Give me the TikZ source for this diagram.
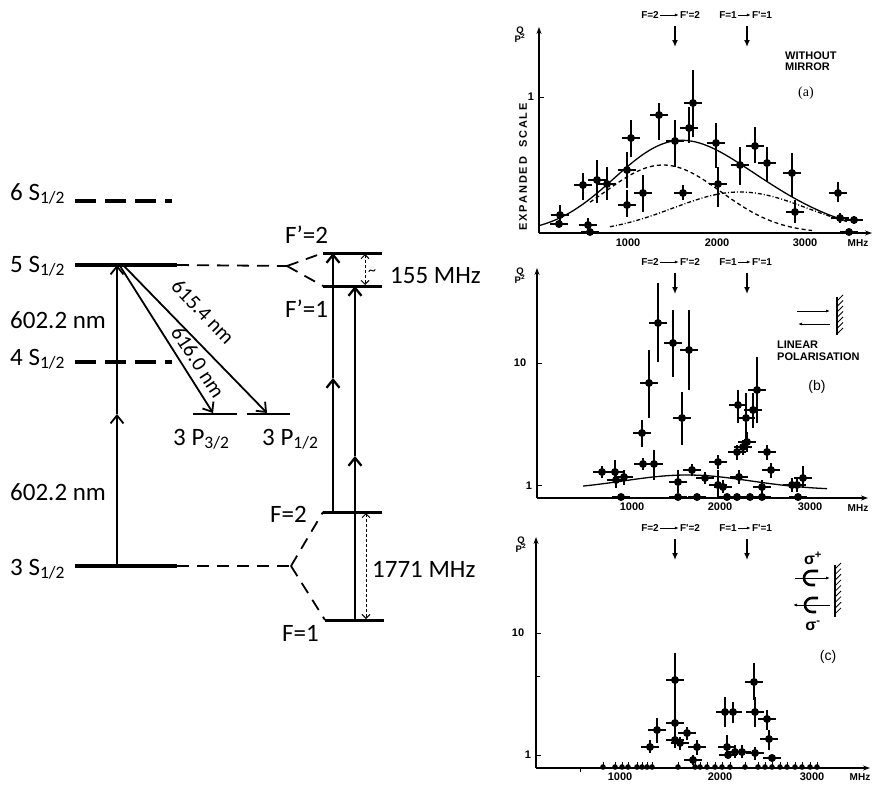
\documentclass[tikz,border=0pt]{standalone}
\usepackage{fontspec}
\setmainfont{Carlito}
\newfontfamily\pf{Liberation Sans}
\newfontfamily\pserif{Liberation Serif}
\usetikzlibrary{arrows.meta}
\begin{document}
\begin{tikzpicture}[x=1pt,y=-1pt,
  lvl/.style={line width=4.5pt},
  hlvl/.style={line width=3pt},
  plvl/.style={line width=2.5pt},
  dlvl/.style={line width=4.5pt, dash pattern=on 21pt off 9pt},
  link/.style={line width=1.8pt, dash pattern=on 12pt off 8pt},
  barb/.style={line width=1.8pt, -{Straight Barb[length=8pt,width=13pt]}},
  tbarb/.style={line width=2.3pt, -{Straight Barb[length=8pt,width=13pt]}},
  gap/.style={line width=0.9pt, dash pattern=on 3pt off 2pt, {Straight Barb[length=4pt,width=8pt]}-{Straight Barb[length=4pt,width=8pt]}},
  lab/.style={font=\fontsize{25}{30}\selectfont, inner sep=0pt},
  rlab/.style={font=\fontsize{21}{25}\selectfont, inner sep=0pt},
  axis/.style={line width=1.4pt, -{Stealth[length=7pt,width=5pt]}},
  pt/.style={font=\pf\bfseries\fontsize{11}{13}\selectfont, inner sep=0pt},
  ptsm/.style={font=\pf\bfseries\fontsize{10}{12}\selectfont, inner sep=1pt},
  qlab/.style={font=\pf\bfseries\fontsize{9.5}{9.5}\selectfont, inner sep=0pt},
  bar/.style={line width=1.6pt},
  curve/.style={line width=1.3pt},
  down/.style={line width=2pt, -{Latex[length=7pt,width=6pt]}},
  small/.style={line width=0.8pt, -{Latex[length=4pt,width=3pt]}},
  hatch/.style={line width=0.8pt}]
\useasboundingbox (0,0) rectangle (874,787);
\fill[white] (0,0) rectangle (874,787);

% ---------------- level diagram ----------------
\coordinate (s6L) at (75,201); \coordinate (s6R) at (172,201);
\coordinate (s5L) at (75,265); \coordinate (s5R) at (177,265);
\coordinate (s4L) at (75,362); \coordinate (s4R) at (172,362);
\coordinate (s3L) at (75,566); \coordinate (s3R) at (177,566);
\draw[dlvl] (s6L) -- (s6R);
\draw[lvl] (s5L) -- (s5R);
\draw[dlvl] (s4L) -- (s4R);
\draw[lvl] (s3L) -- (s3R);

\node[lab, anchor=base west] (l6) at (10,200) {6 S\textsubscript{1/2}};
\node[lab, anchor=base west] (l5) at (10,272) {5 S\textsubscript{1/2}};
\node[lab, anchor=base west] (l4) at (10,365) {4 S\textsubscript{1/2}};
\node[lab, anchor=base west] (l3) at (10,575) {3 S\textsubscript{1/2}};
\node[lab, anchor=base west] (w1) at (10,328) {602.2 nm};
\node[lab, anchor=base west] (w2) at (10,500) {602.2 nm};

% 3P levels
\coordinate (p3L) at (193,414); \coordinate (p3R) at (237,414);
\coordinate (p1L) at (247,414); \coordinate (p1R) at (290,414);
\draw[plvl] (p3L) -- (p3R);
\draw[plvl] (p1L) -- (p1R);
\node[lab, anchor=base west] (lp3) at (173,445) {3 P\textsubscript{3/2}};
\node[lab, anchor=base west] (lp1) at (262,445) {3 P\textsubscript{1/2}};

% excitation arrow
\coordinate (a1b) at (117,566); \coordinate (a1m) at (117,414); \coordinate (a1t) at (117,265);
\draw[barb] (a1b) -- (a1m);
\draw[barb] (a1m) -- (a1t);

% decay arrows
\coordinate (d1s) at (120,266); \coordinate (d1e) at (213,413);
\coordinate (d2s) at (124,266); \coordinate (d2e) at (267,413);
\draw[barb] (d1s) -- (d1e);
\draw[barb] (d2s) -- (d2e);
\node[rlab, rotate=-46] (t615) at (203,312) {615.4 nm};
\node[rlab, rotate=-57] (t616) at (198,362) {616.0 nm};

% hyperfine levels
\coordinate (fp2L) at (323,253); \coordinate (fp2R) at (382,253);
\coordinate (fp1L) at (323,286); \coordinate (fp1R) at (382,286);
\coordinate (f2L) at (323,512); \coordinate (f2R) at (382,512);
\coordinate (f1L) at (325,620); \coordinate (f1R) at (384,620);
\draw[hlvl] (fp2L) -- (fp2R);
\draw[hlvl] (fp1L) -- (fp1R);
\draw[hlvl] (f2L) -- (f2R);
\draw[hlvl] (f1L) -- (f1R);

\coordinate (c5) at (287,266);
\coordinate (c3) at (291,566);
\draw[link] (s5R) -- (c5);
\draw[link] (c5) -- (fp2L);
\draw[link] (c5) -- (fp1L);
\draw[link] (s3R) -- (c3);
\draw[link] (c3) -- (f2L);
\draw[link] (c3) -- (f1L);

\node[lab, anchor=base west] (lfp2) at (285,243) {F'=2};
\node[lab, anchor=base west] (lfp1) at (285,317) {F'=1};
\node[lab, anchor=base west] (lf2) at (270,522) {F=2};
\node[lab, anchor=base west] (lf1) at (282,641) {F=1};

% hyperfine arrows
\coordinate (h1b) at (333,512); \coordinate (h1m) at (333,378); \coordinate (h1t) at (333,253);
\coordinate (h2b) at (355,620); \coordinate (h2m) at (355,456); \coordinate (h2t) at (355,286);
\draw[tbarb] (h1b) -- (h1m);
\draw[tbarb] (h1m) -- (h1t);
\draw[tbarb] (h2b) -- (h2m);
\draw[tbarb] (h2m) -- (h2t);

% splittings
\coordinate (g1t) at (365,254); \coordinate (g1b) at (365,285);
\coordinate (g2t) at (366,513); \coordinate (g2b) at (366,619);
\draw[gap] (g1t) -- (g1b);
\draw[gap] (g2t) -- (g2b);
\node[font=\fontsize{16}{18}\selectfont, inner sep=0pt] (tl) at (372,273) {\char`\~};
\node[lab, anchor=base west] (m155) at (390,283) {155 MHz};
\node[lab, anchor=base west] (m1771) at (372,577) {1771 MHz};

% ---------------- plots: common top labels ----------------
\foreach \oy/\nm in {0/a, 247/b, 513/c}{
  \node[ptsm] (fa\nm) at (650,15+\oy) {F=2};
  \node[ptsm] (fb\nm) at (690,15+\oy) {F'=2};
  \node[ptsm] (fc\nm) at (728,15+\oy) {F=1};
  \node[ptsm] (fd\nm) at (762,15+\oy) {F'=1};
  \draw[small] (fa\nm) -- (fb\nm);
  \draw[small] (fc\nm) -- (fd\nm);
  \coordinate (ua\nm) at (675,26+\oy); \coordinate (va\nm) at (675,47+\oy);
  \coordinate (ub\nm) at (747,26+\oy); \coordinate (vb\nm) at (747,47+\oy);
  \draw[down] (ua\nm) -- (va\nm);
  \draw[down] (ub\nm) -- (vb\nm);
}

% ---------------- plot (a) ----------------
\coordinate (oa) at (539,233);
\coordinate (ya) at (539,27);
\coordinate (xa) at (872,233);
\draw[axis] (oa) -- (ya);
\draw[axis] (oa) -- (xa);
\draw[line width=1pt] (539,97) -- (544,97);
\node[qlab] (qa) at (520,36) {\begin{tabular}{@{}c@{}}Q\\[-3pt]P\textsuperscript{2}\end{tabular}};
\node[pt, rotate=90] (exp) at (523,167) {E\,X\,P\,A\,N\,D\,E\,D\ \ \ S\,C\,A\,L\,E};
\node[pt] (a1) at (531,97) {1};
\node[pt] (ax1) at (628,243) {1000};
\node[pt] (ax2) at (717,243) {2000};
\node[pt] (ax3) at (805,243) {3000};
\node[ptsm] (axm) at (858,243) {MHz};
\node[pt, anchor=west] (wo1) at (785,56) {WITHOUT};
\node[pt, anchor=west] (wo2) at (785,67) {MIRROR};
\node[font=\pserif\fontsize{14}{16}\selectfont, inner sep=0pt] (la) at (806,93) {(a)};

\draw[curve] plot[domain=540:847, samples=90] (\x, {233-68*exp(-((\x-663)/82)*((\x-663)/82))-41*exp(-((\x-740)/95)*((\x-740)/95))});
\draw[curve, dash pattern=on 4pt off 3pt] plot[domain=590:812, samples=60] (\x, {233-68*exp(-((\x-663)/82)*((\x-663)/82))});
\draw[curve, dash pattern=on 4pt off 2pt on 1pt off 2pt] plot[domain=610:847, samples=60] (\x, {233-41*exp(-((\x-740)/95)*((\x-740)/95))});

\foreach \px/\py/\pa/\pb in {560/215/205/223, 559/224/224/224, 583/185/173/200, 588/225/218/232,
  590/232/232/232, 597/180/160/203, 607/184/167/200, 627/170/152/188, 631/138/120/157,
  627/205/190/217, 643/193/175/212, 659/115/103/140, 675/141/120/167, 683/193/185/200,
  689/128/107/143, 693/103/70/137, 716/143/123/168, 718/184/167/207, 740/165/147/185,
  755/146/127/163, 767/163/147/182, 792/173/153/197, 795/212/200/223, 838/193/182/202,
  840/218/213/223, 854/220/216/224, 849/232/232/232}{
  \draw[bar] (\px-9,\py) -- (\px+9,\py);
  \draw[bar] (\px,\pa) -- (\px,\pb);
  \fill (\px,\py) circle (4pt);
}

% ---------------- plot (b) ----------------
\coordinate (ob) at (537,498);
\coordinate (yb) at (537,268);
\coordinate (xb) at (868,498);
\draw[axis] (ob) -- (yb);
\draw[axis] (ob) -- (xb);
\draw[line width=1pt] (537,363) -- (542,363);
\draw[line width=1pt] (537,485) -- (542,485);
\node[qlab] (qb) at (520,277) {\begin{tabular}{@{}c@{}}Q\\[-3pt]P\textsuperscript{2}\end{tabular}};
\node[pt] (b10) at (520,363) {10};
\node[pt] (b1) at (529,486) {1};
\node[pt] (bx1) at (632,507) {1000};
\node[pt] (bx2) at (720,507) {2000};
\node[pt] (bx3) at (810,507) {3000};
\node[ptsm] (bxm) at (858,508) {MHz};
\node[pt, anchor=west] (lin1) at (777,345) {LINEAR};
\node[pt, anchor=west] (lin2) at (777,357) {POLARISATION};
\node[font=\pf\fontsize{14}{16}\selectfont, inner sep=0pt] (lb) at (817,387) {(b)};
% mirror (b)
\coordinate (mb1) at (837,297); \coordinate (mb2) at (837,335);
\draw[line width=1.2pt] (mb1) -- (mb2);
\foreach \k in {0,...,6} \draw[hatch] (837,301+\k*5.5) -- (843,295+\k*5.5);
\coordinate (rb1) at (797,311); \coordinate (rb2) at (830,311);
\coordinate (lb1) at (830,324); \coordinate (lb2) at (798,324);
\draw[small] (rb1) -- (rb2);
\draw[small] (lb1) -- (lb2);

\draw[curve] plot[domain=583:827, samples=60] (\x, {490-15*exp(-((\x-687)/90)*((\x-687)/90))});

\foreach \px/\py/\pa/\pb in {602/472/466/478, 615/472/460/483, 616/480/474/488, 624/477/470/485,
  621/497/497/497, 642/433/420/447, 643/464/458/470, 654/464/450/480, 649/383/350/418,
  658/323/283/362, 673/343/310/377, 678/482/470/493, 678/497/497/497, 682/418/392/445,
  689/350/310/390, 692/470/464/476, 697/497/497/497, 705/478/472/484, 718/485/470/497,
  723/487/480/493, 727/497/497/497, 718/462/455/469, 738/405/390/423, 737/452/445/460,
  739/477/470/484, 737/497/497/497, 746/418/393/443, 743/447/440/455, 747/442/432/452,
  753/410/393/428, 757/390/357/423, 750/497/497/497, 762/497/497/497, 762/487/480/494,
  767/452/445/460, 771/470/463/478, 792/485/478/492, 797/485/478/492, 798/497/497/497,
  803/478/466/488}{
  \draw[bar] (\px-9,\py) -- (\px+9,\py);
  \draw[bar] (\px,\pa) -- (\px,\pb);
  \fill (\px,\py) circle (4pt);
}

% ---------------- plot (c) ----------------
\coordinate (oc) at (536,768);
\coordinate (yc) at (536,537);
\coordinate (xc) at (870,768);
\draw[axis] (oc) -- (yc);
\draw[axis] (oc) -- (xc);
\draw[line width=1pt] (536,633) -- (541,633);
\draw[line width=1pt] (536,676) -- (540,676);
\draw[line width=1pt] (536,755) -- (541,755);
\draw[line width=1pt] (580,768) -- (580,772);
\node[qlab] (qc) at (521,546) {\begin{tabular}{@{}c@{}}Q\\[-3pt]P\textsuperscript{2}\end{tabular}};
\node[pt] (c10) at (518,633) {10};
\node[pt] (c1) at (528,755) {1};
\node[pt] (cx1) at (620,777) {1000};
\node[pt] (cx2) at (720,777) {2000};
\node[pt] (cx3) at (812,777) {3000};
\node[ptsm] (cxm) at (860,777) {MHz};
\node[font=\pf\fontsize{14}{16}\selectfont, inner sep=0pt] (lc) at (828,657) {(c)};
% mirror (c)
\coordinate (mc1) at (835,565); \coordinate (mc2) at (835,617);
\draw[line width=1.2pt] (mc1) -- (mc2);
\foreach \k in {0,...,8} \draw[hatch] (835,569+\k*5.6) -- (841,563+\k*5.6);
\node[font=\pf\bfseries\fontsize{16}{16}\selectfont, inner sep=0pt] (sp) at (813,558) {σ\textsuperscript{+}};
\node[font=\pf\bfseries\fontsize{16}{16}\selectfont, inner sep=0pt] (sm) at (813,626) {σ\textsuperscript{-}};
\coordinate (rc1) at (795,578); \coordinate (rc2) at (830,578);
\coordinate (lc1) at (830,605); \coordinate (lc2) at (793,605);
\draw[small] (rc1) -- (rc2);
\draw[small] (lc1) -- (lc2);
\draw[line width=2.6pt] (818,571) -- (811,571) arc[start angle=90, end angle=270, radius=7pt] -- (815,585);
\draw[line width=2.6pt] (818,598) -- (812,598) arc[start angle=90, end angle=270, radius=7pt] -- (816,612);

\foreach \px/\py/\pa/\pb in {650/747/740/753, 657/730/718/743, 675/680/653/710, 675/723/710/737,
  675/740/733/748, 680/743/737/750, 687/733/727/740, 697/747/740/755, 693/760/755/765,
  725/712/697/727, 733/712/702/723, 727/747/735/757, 728/755/755/755, 735/752/745/758,
  742/752/745/758, 754/682/663/700, 755/712/697/727, 755/753/747/760, 767/719/710/730,
  769/739/730/750, 772/758/758/758}{
  \draw[bar] (\px-9,\py) -- (\px+9,\py);
  \draw[bar] (\px,\pa) -- (\px,\pb);
  \fill (\px,\py) circle (4pt);
}
\foreach \px in {603,615,622,628,637,642,647,652,678,695,700,707,715,722,730,745,758,765,772,780,787,795,802,810,817}{
  \draw[line width=1pt] (\px,762) -- (\px,768);
  \fill (\px,767) circle (2.8pt);
}
\end{tikzpicture}
\end{document}
